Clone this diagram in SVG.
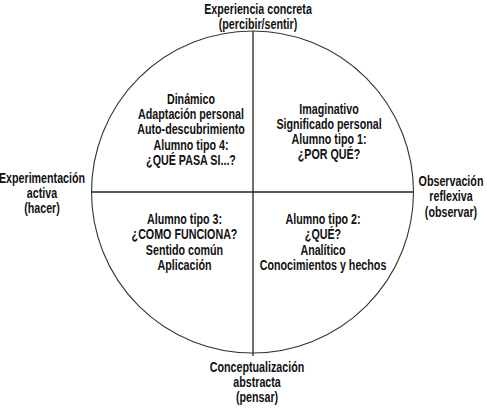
<svg xmlns="http://www.w3.org/2000/svg" width="487" height="409" viewBox="0 0 487 409">
<style>
text{font-family:"Liberation Sans Narrow","Liberation Sans",Arial,sans-serif;font-weight:bold;font-size:14px;fill:#111;text-anchor:middle}
.ax{stroke:#222;stroke-width:1.3;fill:none}
.c{stroke:#333;stroke-width:1.1;fill:none}
</style>
<rect width="487" height="409" fill="#fff"/>
<g id="circle"><circle class="c" cx="252.5" cy="192" r="161"/></g>
<g id="connectors">
<line class="ax" x1="253" y1="31" x2="253" y2="356"/>
<line class="ax" x1="92" y1="192" x2="413" y2="192"/>
</g>
<g id="top" transform="translate(258 0) scale(0.765 1)"><text y="14.5">Experiencia concreta</text><text y="29.5">(percibir/sentir)</text></g>
<g id="left" transform="translate(42 0) scale(0.765 1)"><text y="183">Experimentación</text><text y="198">activa</text><text y="213.5">(hacer)</text></g>
<g id="right" transform="translate(451 0) scale(0.765 1)"><text y="186">Observación</text><text y="201.5">reflexiva</text><text y="217">(observar)</text></g>
<g id="bottom" transform="translate(257 0) scale(0.765 1)"><text y="372">Conceptualización</text><text y="387">abstracta</text><text y="402.5">(pensar)</text></g>
<g id="q4" transform="translate(191 0) scale(0.765 1)"><text y="104">Dinámico</text><text y="119.25">Adaptación personal</text><text y="134.5">Auto-descubrimiento</text><text y="149.75">Alumno tipo 4:</text><text y="165">¿QUÉ PASA SI...?</text></g>
<g id="q1" transform="translate(329 0) scale(0.765 1)"><text y="114.5">Imaginativo</text><text y="129.5">Significado personal</text><text y="144.5">Alumno tipo 1:</text><text y="159.5">¿POR QUÉ?</text></g>
<g id="q3" transform="translate(184.5 0) scale(0.765 1)"><text y="224.5">Alumno tipo 3:</text><text y="239.5">¿COMO FUNCIONA?</text><text y="255">Sentido común</text><text y="270">Aplicación</text></g>
<g id="q2" transform="translate(323 0) scale(0.765 1)"><text y="224.5">Alumno tipo 2:</text><text y="239.5">¿QUÉ?</text><text y="255">Analítico</text><text y="270">Conocimientos y hechos</text></g>
</svg>
